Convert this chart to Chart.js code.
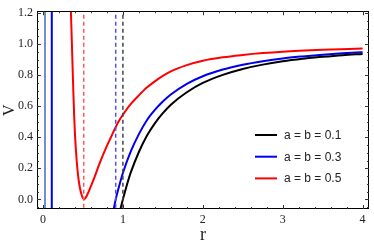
<!DOCTYPE html>
<html>
<head>
<meta charset="utf-8">
<script src="https://cdn.jsdelivr.net/npm/chart.js@4/dist/chart.umd.min.js"></script>
<style>
html,body{margin:0;padding:0;background:#fff;}
#wrap{width:374px;height:246px;}
</style>
</head>
<body>
<div id="wrap"><canvas id="c" width="374" height="246"></canvas></div>
<script>
// series labels
const seriesLabels = ['a = b = 0.1', 'a = b = 0.3', 'a = b = 0.5'];
// a = b = 0.1
const rBlack = [0.95, 0.975, 1.0, 1.05, 1.1, 1.2, 1.3, 1.4, 1.5, 1.6, 1.8, 2.0, 2.25, 2.5, 2.75, 3.0, 3.25, 3.5, 3.75, 4.0];
const vBlack = [-0.10, -0.05, 0.0, 0.093, 0.175, 0.305, 0.41, 0.49, 0.555, 0.61, 0.69, 0.75, 0.802, 0.84, 0.868, 0.889, 0.905, 0.918, 0.929, 0.937];
// a = b = 0.3
const rBlue = [0.87, 0.89, 0.91, 0.95, 1.0, 1.1, 1.2, 1.3, 1.4, 1.5, 1.6, 1.8, 2.0, 2.25, 2.5, 2.75, 3.0, 3.25, 3.5, 3.75, 4.0];
const vBlue = [-0.10, -0.05, 0.0, 0.08, 0.17, 0.31, 0.42, 0.51, 0.576, 0.63, 0.675, 0.744, 0.793, 0.836, 0.867, 0.89, 0.908, 0.921, 0.932, 0.941, 0.948];
// a = b = 0.5
const rRed = [0.345, 0.35, 0.36, 0.37, 0.38, 0.39, 0.40, 0.42, 0.44, 0.46, 0.48, 0.50, 0.515, 0.53, 0.55, 0.6, 0.65, 0.7, 0.75, 0.8, 0.85, 0.9, 0.95, 1.0, 1.1, 1.2, 1.3, 1.4, 1.5, 1.6, 1.8, 2.0, 2.25, 2.5, 2.75, 3.0, 3.5, 4.0];
const vRed = [1.3, 1.2, 1.03, 0.86, 0.69, 0.54, 0.42, 0.26, 0.15, 0.08, 0.035, 0.008, 0.0, 0.008, 0.025, 0.085, 0.15, 0.22, 0.285, 0.345, 0.40, 0.455, 0.505, 0.545, 0.615, 0.67, 0.72, 0.76, 0.795, 0.825, 0.865, 0.893, 0.915, 0.93, 0.942, 0.951, 0.963, 0.972];
// vertical solid lines near r = 0
const rSteel = 0.025;
const rBlueInner = 0.11;
// dashed horizon lines
const rDashRed = 0.51;
const rDashBlue = 0.91;
const rDashBlack = 1.0;
// axes
const xTicks = [0, 1, 2, 3, 4];
const yTicks = [0.0, 0.2, 0.4, 0.6, 0.8, 1.0, 1.2];
const xRange = [-0.075, 4.08];
const yRange = [-0.062, 1.212];

const pts = (xs, ys) => xs.map((x, i) => ({x: x, y: ys[i]}));
const vline = (x) => [{x: x, y: -1}, {x: x, y: 2}];

const curveColors = ['#000000', '#0000ee', '#ff0000'];

const datasets = [
  {label: 'vsteel', data: vline(rSteel), borderColor: '#7090c0', borderWidth: 2, tension: 0},
  {label: 'vblue', data: vline(rBlueInner), borderColor: '#0000ee', borderWidth: 2, tension: 0},
  {label: 'dred', data: vline(rDashRed), borderColor: '#ff5a5a', borderWidth: 1.5, borderDash: [4, 3], tension: 0},
  {label: 'dblue', data: vline(rDashBlue), borderColor: '#5050e6', borderWidth: 1.5, borderDash: [4, 3], tension: 0},
  {label: 'dblack', data: vline(rDashBlack), borderColor: '#444444', borderWidth: 1.5, borderDash: [4, 3], tension: 0},
  {label: seriesLabels[0], data: pts(rBlack, vBlack), borderColor: curveColors[0], borderWidth: 2, cubicInterpolationMode: 'monotone', legendItem: true},
  {label: seriesLabels[1], data: pts(rBlue, vBlue), borderColor: curveColors[1], borderWidth: 2, cubicInterpolationMode: 'monotone', legendItem: true},
  {label: seriesLabels[2], data: pts(rRed, vRed), borderColor: curveColors[2], borderWidth: 2, cubicInterpolationMode: 'monotone', legendItem: true}
];

const frameTicks = {
  id: 'frameTicks',
  afterDatasetsDraw(chart) {
    const {ctx, chartArea: a, scales: {x, y}} = chart;
    ctx.save();
    ctx.strokeStyle = '#000';
    ctx.lineWidth = 1;
    ctx.strokeRect(Math.round(a.left) + 0.5, Math.round(a.top) + 0.5, Math.round(a.right - a.left) - 1, Math.round(a.bottom - a.top) - 1);
    ctx.strokeStyle = '#333';
    ctx.beginPath();
    for (let i = 0; i <= 20; i++) {
      const v = i * 0.2;
      const px = Math.round(x.getPixelForValue(v)) + 0.5;
      const L = (i % 5 === 0) ? 4 : 2;
      ctx.moveTo(px, a.bottom); ctx.lineTo(px, a.bottom - L);
      ctx.moveTo(px, a.top); ctx.lineTo(px, a.top + L);
    }
    for (let i = -1; i <= 24; i++) {
      const v = i * 0.05;
      if (v < yRange[0] || v > yRange[1]) continue;
      const py = Math.round(y.getPixelForValue(v)) + 0.5;
      const L = (i % 4 === 0) ? 4 : 2;
      ctx.moveTo(a.left, py); ctx.lineTo(a.left + L, py);
      ctx.moveTo(a.right, py); ctx.lineTo(a.right - L, py);
    }
    ctx.stroke();
    // legend inside the plot
    const items = chart.data.datasets.filter(d => d.legendItem);
    ctx.font = '12px "Liberation Sans", Arial, sans-serif';
    ctx.textBaseline = 'middle';
    ctx.textAlign = 'left';
    items.forEach((d, i) => {
      const yy = 135 + i * 21.7;
      ctx.strokeStyle = d.borderColor;
      ctx.lineWidth = 2;
      ctx.beginPath();
      ctx.moveTo(255, yy); ctx.lineTo(277, yy);
      ctx.stroke();
      ctx.fillStyle = '#222';
      ctx.fillText(d.label, 284, yy + 0.5);
    });
    ctx.restore();
  }
};

new Chart(document.getElementById('c'), {
  type: 'scatter',
  data: {datasets: datasets},
  options: {
    responsive: false,
    animation: false,
    showLine: true,
    elements: {point: {radius: 0}, line: {fill: false}},
    layout: {padding: {left: 0, right: 5, top: 5, bottom: 0}},
    plugins: {legend: {display: false}, tooltip: {enabled: false}},
    scales: {
      x: {
        type: 'linear', min: xRange[0], max: xRange[1],
        grid: {display: false, drawTicks: false},
        border: {display: false},
        afterBuildTicks: (s) => { s.ticks = xTicks.map(v => ({value: v})); },
        afterFit: (s) => { s.height = 37; },
        ticks: {color: '#222', padding: 4, maxRotation: 0, font: {family: '"Liberation Serif", "Times New Roman", serif', size: 12}, callback: (v) => String(v)},
        title: {display: true, text: 'r', color: '#222', padding: {top: 0, bottom: 0}, font: {family: '"Liberation Serif", "Times New Roman", serif', size: 18}}
      },
      y: {
        type: 'linear', min: yRange[0], max: yRange[1],
        grid: {display: false, drawTicks: false},
        border: {display: false},
        afterBuildTicks: (s) => { s.ticks = yTicks.map(v => ({value: v})); },
        afterFit: (s) => { s.width = 37; },
        ticks: {color: '#222', padding: 4, font: {family: '"Liberation Serif", "Times New Roman", serif', size: 12}, callback: (v) => Number(v).toFixed(1)},
        title: {display: true, text: 'V', color: '#222', padding: {top: 0, bottom: 0}, font: {family: '"Liberation Serif", "Times New Roman", serif', size: 16}}
      }
    }
  },
  plugins: [frameTicks]
});
</script>
</body>
</html>
